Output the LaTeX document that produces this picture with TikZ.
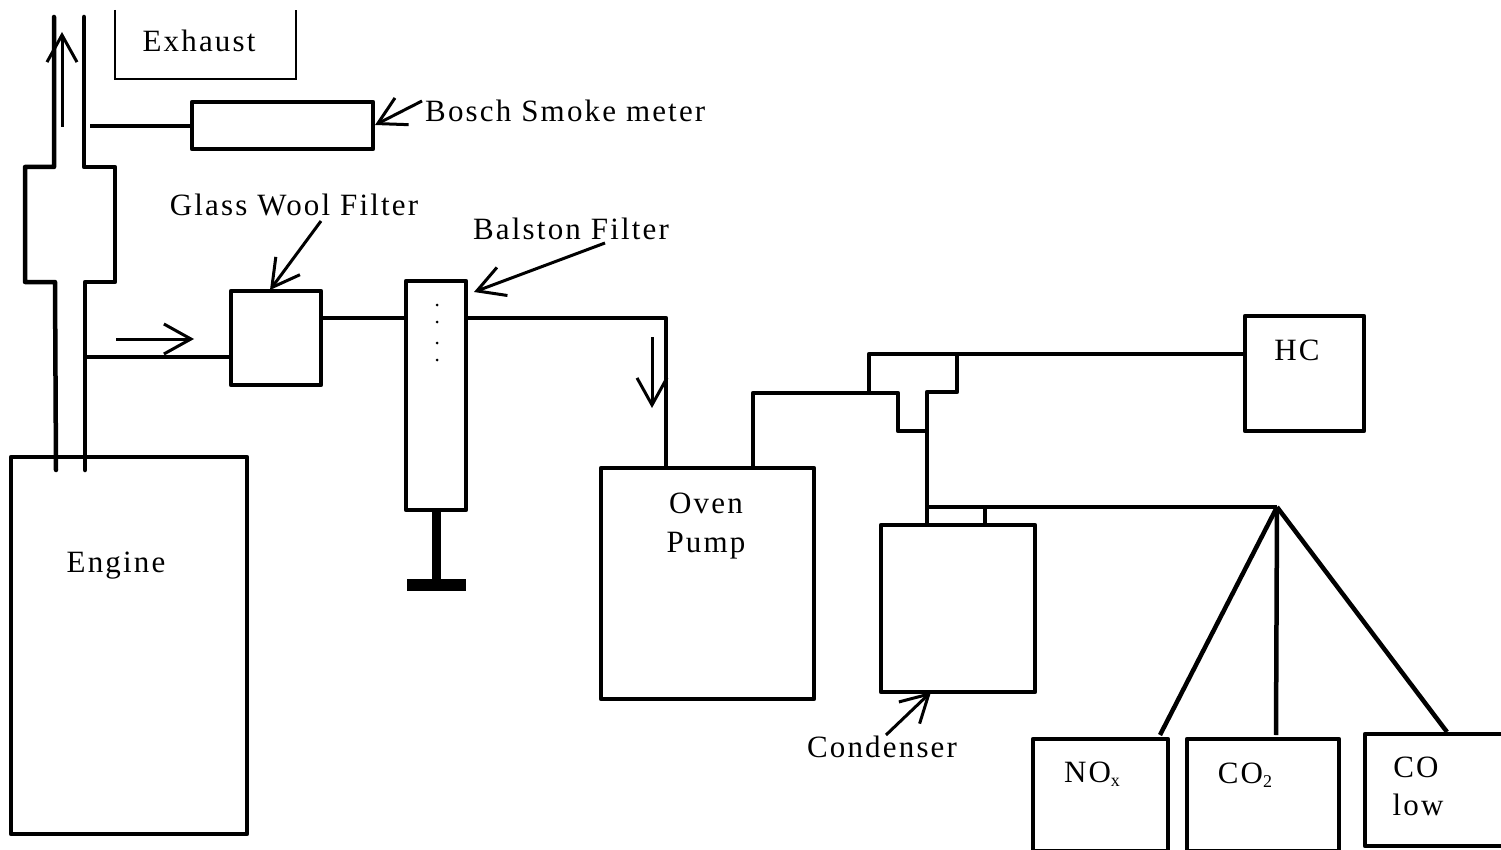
\documentclass[tikz,border=0pt]{standalone}
\usepackage{fontspec}
\setmainfont[LetterSpace=7]{Liberation Serif}
\usetikzlibrary{arrows.meta}
\tikzset{
  x=1pt,y=-1pt,
  wire/.style={line width=4.5pt,line join=round,line cap=round},
  boxed/.style={draw,line width=4.5pt,line join=round,fill=none,inner sep=0pt},
  flow/.style={line width=3pt,-{Straight Barb[length=27pt,width=30pt,line width=3pt]}},
  lab/.style={inner sep=0pt,font=\fontsize{31}{33}\selectfont,text=black},
}
\newcommand{\boxat}[5]{\node[boxed,minimum width=#4pt-#2pt,minimum height=#5pt-#3pt] (#1) at ({(#2+#4)/2},{(#3+#5)/2}) {};}
\newcommand{\lowsub}[1]{\raisebox{-4pt}{\fontsize{18}{18}\selectfont #1}}
\begin{document}
\begin{tikzpicture}
\useasboundingbox (0,0) rectangle (1501,850);
\clip (0,0) rectangle (1501,850);
% boxes
\boxat{engine}{11}{457}{247}{834}
\boxat{smoke}{192}{102}{373}{149}
\boxat{glass}{231}{291}{321}{385}
\boxat{balston}{406}{281}{466}{510}
\boxat{oven}{601}{468}{814}{699}
\boxat{condenser}{881}{525}{1035}{692}
\boxat{hc}{1245}{316}{1364}{431}
\boxat{nox}{1033}{739}{1168}{851}
\boxat{cotwo}{1187}{739}{1339}{851}
\boxat{co}{1365}{734}{1510}{846}
% exhaust open box
\coordinate (exA) at (115,10);
\coordinate (exB) at (115,79);
\coordinate (exC) at (296,79);
\coordinate (exD) at (296,10);
\draw[line width=2.5pt] (exA) -- (exB) -- (exC) -- (exD);
% exhaust pipe with silencer
\coordinate (pL) at (54,17);
\coordinate (pR) at (84,17);
\coordinate (pLb) at (56,470);
\coordinate (pRb) at (85,470);
\draw[wire] (pL) -- (54,167) -- (25,167) -- (25,282) -- (55,282) -- (pLb);
\draw[wire] (pR) -- (84,167) -- (115,167) -- (115,282) -- (85,282) -- (pRb);
% connectors
\coordinate (tapS) at (90,126);
\draw[wire,line cap=butt] (tapS) -- (smoke.west |- tapS);
\coordinate (tapG) at (85,357);
\draw[wire,line cap=butt] (tapG) -- (glass.west |- tapG);
\coordinate (gb) at (321,318);
\coordinate (bg) at (406,318);
\draw[wire,line cap=butt] (gb) -- (bg);
\coordinate (bo) at (466,318);
\coordinate (ob) at (666,468);
\draw[wire,line cap=butt] (bo) -- (666,318) -- (ob);
\coordinate (ov) at (753,468);
\coordinate (tL) at (869,393);
\coordinate (tM) at (927,431);
\coordinate (tTop) at (957,354);
\draw[wire,line cap=butt] (ov) -- (753,393) -- (898,393) -- (898,431) -- (tM);
\coordinate (hcL) at (1245,354);
\draw[wire,line cap=butt] (tL) -- (869,354) -- (hcL);
\coordinate (cTop) at (927,525);
\draw[wire,line cap=butt] (tTop) -- (957,392) -- (927,392) -- (cTop);
\coordinate (fan) at (1277,507);
\coordinate (c2) at (985,525);
\coordinate (c1) at (927,507);
\coordinate (c3) at (985,507);
\draw[wire,line cap=butt] (c1) -- (fan);
\draw[wire,line cap=butt] (c3) -- (c2);
\coordinate (nT) at (1160,735);
\coordinate (cT) at (1276,735);
\coordinate (oT) at (1447,732);
\draw[wire,line cap=butt] (fan) -- (nT);
\draw[wire,line cap=butt] (fan) -- (cT);
\draw[wire,line cap=butt] (fan) -- (oT);
% balston stem
\coordinate (stemB) at (436,580);
\draw[line width=9pt] (436,510) -- (stemB);
\node[fill=black,inner sep=0pt,minimum width=59pt,minimum height=12pt] (foot) at (436,585) {};
\foreach \yy in {305,322,343,360}
  \fill[black] (437,\yy) circle (1.5pt);
% flow arrows
\coordinate (up1) at (62,127);
\coordinate (up2) at (62,32);
\draw[flow] (up1) -- (up2);
\coordinate (r1) at (116,339);
\coordinate (r2) at (194,339);
\draw[flow] (r1) -- (r2);
\coordinate (d1) at (652,337);
\coordinate (d2) at (652,408);
\draw[flow] (d1) -- (d2);
% labels
\node[lab] (exhaustL) at (199,41) {Exhaust};
\node[lab,anchor=west] (boschL) at (425,111) {Bosch Smoke meter};
\node[lab] (glassL) at (294,205) {Glass Wool Filter};
\node[lab] (balstonL) at (571,229) {Balston Filter};
\node[lab] (engineL) at (116,566) {Engine};
\node[lab] (ovenL) at (706,503) {Oven};
\node[lab] (pumpL) at (706,546) {Pump};
\node[lab] (hcT) at (1297,350) {HC};
\node[lab] (noxT) at (1092,774) {NO\lowsub{x}};
\node[lab] (co2T) at (1245,775) {CO\lowsub{2}};
\node[lab] (coT) at (1416,767) {CO};
\node[lab] (lowT) at (1418,805) {low};
\node[lab] (condL) at (882,747) {Condenser};
% label arrows
\coordinate (ba) at (422,101);
\coordinate (ma) at (375,125);
\draw[flow] (ba) -- (ma);
\coordinate (ga) at (321,221);
\coordinate (gh) at (270,290);
\draw[flow] (ga) -- (gh);
\coordinate (bl) at (605,243);
\coordinate (bh) at (474,292);
\draw[flow] (bl) -- (bh);
\coordinate (ca) at (886,735);
\coordinate (ch) at (931,692);
\draw[flow] (ca) -- (ch);
\end{tikzpicture}
\end{document}
